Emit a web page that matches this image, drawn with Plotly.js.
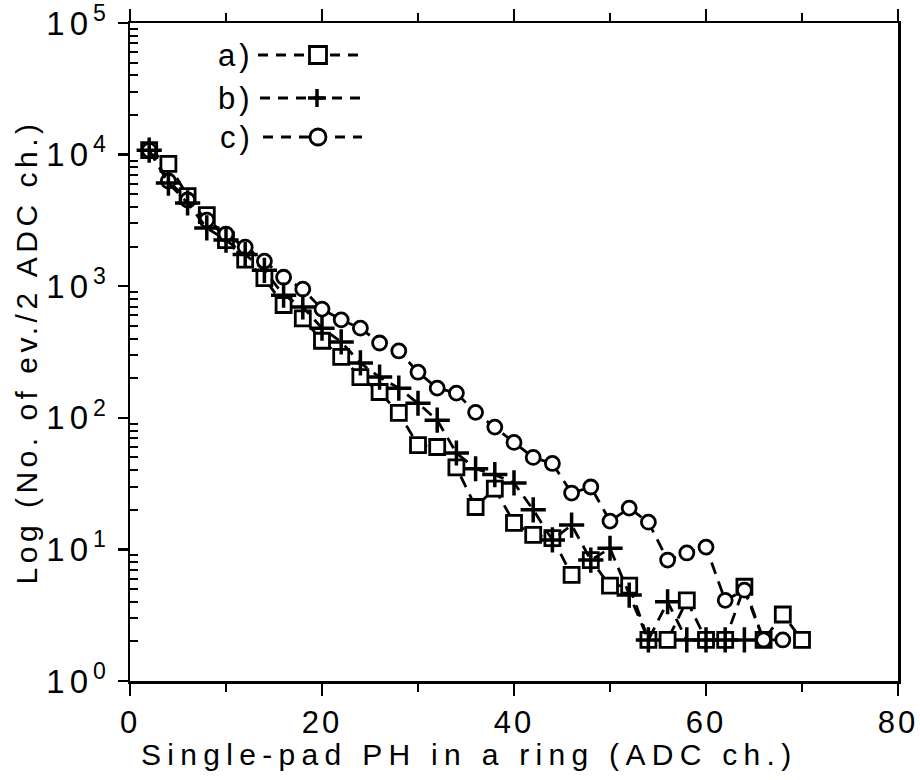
<!DOCTYPE html>
<html>
<head>
<meta charset="utf-8">
<script src="https://cdn.plot.ly/plotly-3.0.1.min.js"></script>
<style>
  html, body { margin: 0; padding: 0; background: #ffffff; }
  #chart { width: 920px; height: 780px; }
  g.g-ytitle text { letter-spacing: 4.5px; }
  g.ytick text { letter-spacing: 5px; }
  g.xtick text { letter-spacing: 3px; }
  text.annotation-text { letter-spacing: 4px; }
  g.annotation[data-index="3"] text { letter-spacing: 6.3px; }
</style>
</head>
<body>
<div id="chart"></div>
<script>
// ---- data ----
const seriesNames = ["a)", "b)", "c)"];
const xTitle = "Single-pad PH in a ring (ADC ch.)";
const yTitle = "Log (No. of ev./2 ADC ch.)";

const xA = [2,4,6,8,10,12,14,16,18,20,22,24,26,28,30,32,34,36,38,40,42,44,46,48,50,52,54,56,58,60,62,64,66,68,70];
const yA = [10800,8500,4840,3470,2240,1590,1150,720,570,385,290,204,157,109,62,60,42,21,29,15.9,12.9,12.2,6.4,8.3,5.3,5.3,2.05,2.05,4.1,2.05,2.05,5.2,2.05,3.2,2.05];

const xB = [2,4,6,8,10,12,14,16,18,20,22,24,26,28,30,32,34,36,38,40,42,44,46,48,50,52,54,56,58,60,62,64];
const yB = [10800,6080,4290,2770,2240,1740,1320,855,695,480,377,261,204,168,129,96,54,41,37,32,20,11.8,15.3,8.3,10.2,4.5,2.05,4.0,2.05,2.05,2.05,2.05];

const xC = [2,4,6,8,10,12,14,16,18,20,22,24,26,28,30,32,34,36,38,40,42,44,46,48,50,52,54,56,58,60,62,64,66,68];
const yC = [10800,6300,4520,3180,2490,1980,1550,1170,950,670,555,480,370,322,222,168,154,110,85,65,50,45,26.8,29.8,16.4,20.6,16.1,8.3,9.4,10.4,4.1,4.9,2.05,2.05];

const xTickVals = [0,20,40,60,80];
const xMinorVals = [10,30,50,70];
const yTickVals = [1,10,100,1000,10000,100000];
const yTickText = ["10<sup>0</sup>","10<sup>1</sup>","10<sup>2</sup>","10<sup>3</sup>","10<sup>4</sup>","10<sup>5</sup>"];

// ---- styling ----
const FONT = "Liberation Sans, Arial, Helvetica, sans-serif";
const INK = "#000000";
const DASH = "12px,8px";

// minor log ticks 2..9 per decade
const yMinorVals = [];
for (let d = 0; d < 5; d++) {
  for (let m = 2; m <= 9; m++) yMinorVals.push(m * Math.pow(10, d));
}

const traceA = {
  x: xA, y: yA, name: seriesNames[0], type: "scatter", mode: "lines+markers",
  line: { color: INK, width: 2.8, dash: DASH },
  marker: { symbol: "square", size: 15, color: "#ffffff", line: { color: INK, width: 2.8 } }
};
const traceC = {
  x: xC, y: yC, name: seriesNames[2], type: "scatter", mode: "lines+markers",
  line: { color: INK, width: 2.8, dash: DASH },
  marker: { symbol: "circle", size: 14, color: "#ffffff", line: { color: INK, width: 2.8 } }
};
const traceB = {
  x: xB, y: yB, name: seriesNames[1], type: "scatter", mode: "lines+markers",
  line: { color: INK, width: 2.8, dash: DASH },
  marker: { symbol: "cross-thin", size: 18, color: INK, line: { color: INK, width: 3.5 } }
};

// plot-area geometry (pixels) for the hand-drawn style legend
const L = 130, R = 898, T = 23, B = 681;
const px = v => (v - L) / (R - L);
const py = v => 1 - (v - T) / (B - T);

const legendRows = [
  { label: seriesNames[0], y: 55, x0: 258, x1: 360, mx: 318, kind: "square" },
  { label: seriesNames[1], y: 98, x0: 260, x1: 360, mx: 317, kind: "cross" },
  { label: seriesNames[2], y: 137, x0: 263, x1: 362, mx: 318, kind: "circle" }
];

const shapes = [];
const annotations = [];
legendRows.forEach(r => {
  shapes.push({ type: "line", xref: "paper", yref: "paper", layer: "above",
    x0: px(r.x0), x1: px(r.x1), y0: py(r.y), y1: py(r.y),
    line: { color: INK, width: 2.8, dash: "10px,8px" } });
  if (r.kind === "square") {
    shapes.push({ type: "rect", xref: "paper", yref: "paper", layer: "above",
      x0: px(r.mx - 8.5), x1: px(r.mx + 8.5), y0: py(r.y + 8.5), y1: py(r.y - 8.5),
      fillcolor: "#ffffff", line: { color: INK, width: 2.8 } });
  } else if (r.kind === "circle") {
    shapes.push({ type: "circle", xref: "paper", yref: "paper", layer: "above",
      x0: px(r.mx - 8), x1: px(r.mx + 8), y0: py(r.y + 8), y1: py(r.y - 8),
      fillcolor: "#ffffff", line: { color: INK, width: 2.8 } });
  } else {
    shapes.push({ type: "line", xref: "paper", yref: "paper", layer: "above",
      x0: px(r.mx - 9), x1: px(r.mx + 9), y0: py(r.y), y1: py(r.y),
      line: { color: INK, width: 3.5 } });
    shapes.push({ type: "line", xref: "paper", yref: "paper", layer: "above",
      x0: px(r.mx), x1: px(r.mx), y0: py(r.y + 9), y1: py(r.y - 9),
      line: { color: INK, width: 3.5 } });
  }
  annotations.push({ xref: "paper", yref: "paper", x: px(256), y: py(r.y),
    xanchor: "right", yanchor: "middle", text: r.label, showarrow: false,
    font: { family: FONT, size: 31, color: INK } });
});

// x-axis title (placed as in the reference, slightly left of the axis centre)
annotations.push({ xref: "paper", yref: "paper", x: px(469), y: py(754),
  xanchor: "center", yanchor: "middle", text: xTitle, showarrow: false,
  font: { family: FONT, size: 30, color: INK } });

const layout = {
  width: 920, height: 780,
  margin: { l: L, r: 920 - R, t: T, b: 780 - B, pad: 0 },
  paper_bgcolor: "#ffffff", plot_bgcolor: "#ffffff",
  showlegend: false,
  font: { family: FONT, size: 30, color: INK },
  xaxis: {
    range: [0, 80], tickmode: "array", tickvals: xTickVals,
    ticks: "outside", ticklen: 12, tickwidth: 2.5, tickcolor: INK,
    minor: { tickmode: "array", tickvals: xMinorVals, ticks: "outside", ticklen: 8, tickwidth: 2, tickcolor: INK, showgrid: false },
    showline: true, linewidth: 2.5, linecolor: INK, mirror: "ticks",
    showgrid: false, zeroline: false, ticklabeloverflow: "allow",
    tickfont: { family: FONT, size: 31, color: INK }
  },
  yaxis: {
    type: "log", range: [0, 5], tickmode: "array", tickvals: yTickVals, ticktext: yTickText,
    ticks: "outside", ticklen: 10, tickwidth: 2.5, tickcolor: INK,
    minor: { tickmode: "array", tickvals: yMinorVals, ticks: "inside", ticklen: 8, tickwidth: 2, tickcolor: INK, showgrid: false },
    showline: true, linewidth: 2.5, linecolor: INK, mirror: true,
    showgrid: false, zeroline: false, ticklabeloverflow: "allow",
    tickfont: { family: FONT, size: 33, color: INK },
    title: { text: yTitle, font: { family: FONT, size: 30, color: INK }, standoff: 0 }
  },
  shapes: shapes,
  annotations: annotations
};

Plotly.newPlot("chart", [traceA, traceC, traceB], layout, { displayModeBar: false, staticPlot: true });
</script>
</body>
</html>
